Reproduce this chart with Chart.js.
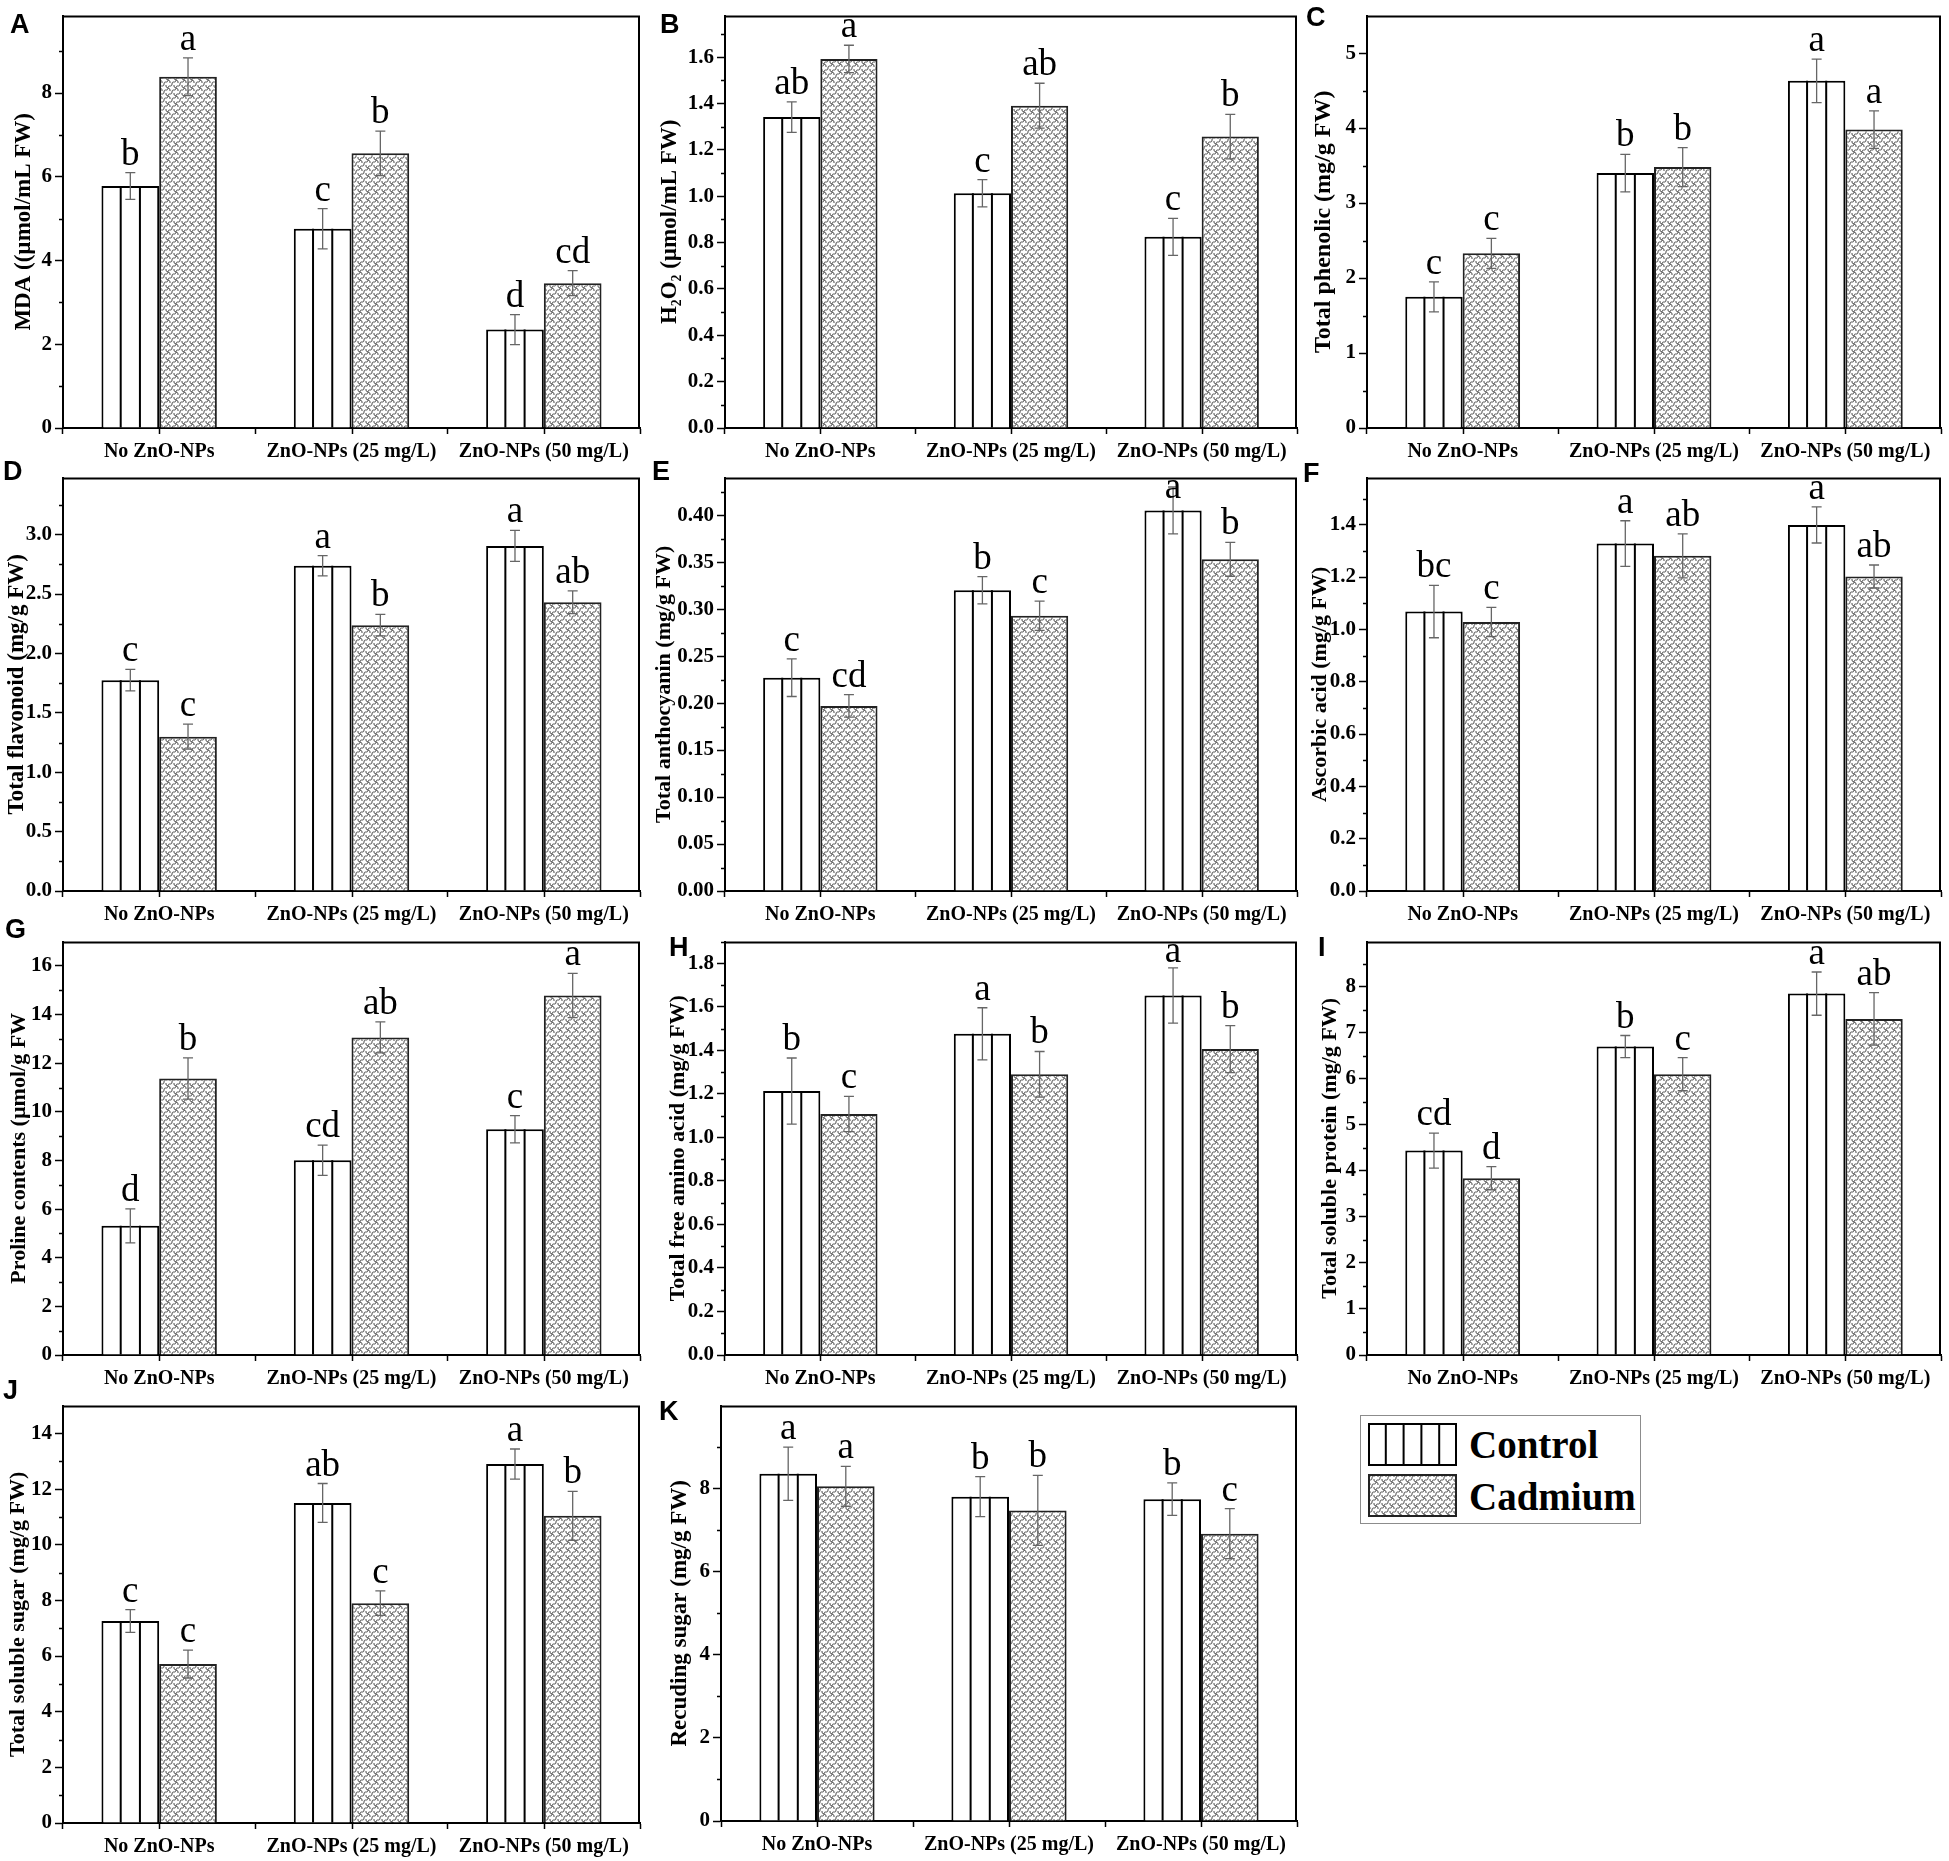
<!DOCTYPE html>
<html lang="en">
<head>
<meta charset="UTF-8">
<title>ZnO-NPs and cadmium – biochemical traits</title>
<script src="https://cdn.jsdelivr.net/npm/chart.js"></script>
<style>
  body { margin: 0; background: #fff; width: 1949px; height: 1861px; position: relative; overflow: hidden; }
  canvas.panel { position: absolute; }
  .tag { position: absolute; font: bold 27px "Liberation Sans", Arial, sans-serif; line-height: 1; color: #000; }
  #legend { position: absolute; left: 1360px; top: 1415px; width: 279px; height: 107px; border: 1px solid #8c8c8c; }
  #legend canvas { position: absolute; left: 7px; }
  #legend span { position: absolute; left: 108px; font: bold 39px "Liberation Serif", "Times New Roman", serif; line-height: 1; color: #000; }
</style>
</head>
<body>

<div id="legend">
  <canvas id="swControl" width="89" height="43" style="top:7px"></canvas>
  <span style="top:9px">Control</span>
  <canvas id="swCadmium" width="89" height="43" style="top:58px"></canvas>
  <span style="top:61px">Cadmium</span>
</div>

<script>
// ---- data ----
const categories = ['No ZnO-NPs', 'ZnO-NPs (25 mg/L)', 'ZnO-NPs (50 mg/L)'];
const seriesNames = ['Control', 'Cadmium'];
const panelIds = ['A', 'B', 'C', 'D', 'E', 'F', 'G', 'H', 'I', 'J', 'K'];
const yTitles = [
  'MDA ((µmol/mL FW)',
  'H₂O₂ (µmol/mL FW)',
  'Total phenolic (mg/g FW)',
  'Total flavonoid (mg/g FW)',
  'Total anthocyanin (mg/g FW)',
  'Ascorbic acid (mg/g FW)',
  'Proline contents (µmol/g FW',
  'Total free amino acid (mg/g FW)',
  'Total soluble protein (mg/g FW)',
  'Total soluble sugar (mg/g FW)',
  'Recuding sugar (mg/g FW)'
];
const yMax = [9.85, 1.78, 5.5, 3.48, 0.44, 1.58, 17, 1.9, 8.98, 15, 9.99];
const yStep = [2, 0.2, 1, 0.5, 0.05, 0.2, 2, 0.2, 1, 2, 2];
const yDecimals = [0, 1, 0, 1, 2, 1, 0, 1, 0, 0, 0];

const controlValues = [
  [5.78, 4.76, 2.35], [1.342, 1.013, 0.825], [1.75, 3.40, 4.63], [1.775, 2.738, 2.905],
  [0.227, 0.320, 0.405], [1.068, 1.328, 1.399], [5.31, 8.01, 9.28], [1.213, 1.476, 1.652],
  [4.44, 6.70, 7.85], [7.26, 11.5, 12.9], [8.35, 7.80, 7.74]
];
const controlErrors = [
  [0.32, 0.48, 0.36], [0.066, 0.059, 0.08], [0.2, 0.25, 0.29], [0.09, 0.085, 0.13],
  [0.02, 0.0145, 0.025], [0.1, 0.087, 0.069], [0.7, 0.62, 0.56], [0.152, 0.12, 0.127],
  [0.38, 0.24, 0.47], [0.41, 0.7, 0.54], [0.64, 0.48, 0.39]
];
const cadmiumValues = [
  [8.39, 6.56, 3.46], [1.593, 1.391, 1.258], [2.33, 3.48, 3.98], [1.299, 2.238, 2.431],
  [0.197, 0.293, 0.353], [1.028, 1.281, 1.202], [11.37, 13.06, 14.78], [1.108, 1.29, 1.406],
  [3.84, 6.10, 7.30], [5.71, 7.9, 11.04], [8.05, 7.47, 6.91]
];
const cadmiumErrors = [
  [0.45, 0.53, 0.3], [0.059, 0.097, 0.096], [0.2, 0.26, 0.25], [0.105, 0.09, 0.096],
  [0.012, 0.0155, 0.018], [0.056, 0.084, 0.044], [0.85, 0.64, 0.91], [0.081, 0.105, 0.108],
  [0.25, 0.36, 0.57], [0.5, 0.44, 0.88], [0.48, 0.84, 0.6]
];
const controlLetters = [
  ['b', 'c', 'd'], ['ab', 'c', 'c'], ['c', 'b', 'a'], ['c', 'a', 'a'], ['c', 'b', 'a'], ['bc', 'a', 'a'],
  ['d', 'cd', 'c'], ['b', 'a', 'a'], ['cd', 'b', 'a'], ['c', 'ab', 'a'], ['a', 'b', 'b']
];
const cadmiumLetters = [
  ['a', 'b', 'cd'], ['a', 'ab', 'b'], ['c', 'b', 'a'], ['c', 'b', 'ab'], ['cd', 'c', 'b'], ['c', 'ab', 'ab'],
  ['b', 'ab', 'a'], ['c', 'b', 'b'], ['d', 'c', 'ab'], ['c', 'c', 'b'], ['a', 'b', 'c']
];

// ---- page layout (pixels) ----
const cols = [
  { cl: 0, cr: 648, pl: 63, pr: 640 },
  { cl: 648, cr: 1302, pl: 725, pr: 1297 },
  { cl: 1302, cr: 1949, pl: 1367, pr: 1941 }
];
const rows = [
  { ct: 0, cb: 462, pt: 6, pb: 428 },
  { ct: 462, cb: 926, pt: 467, pb: 891 },
  { ct: 926, cb: 1390, pt: 930, pb: 1355 },
  { ct: 1390, cb: 1861, pt: 1400, pb: 1823 }
];
// tx/ts: y-title centre and size, lx/ly: panel tag
const panelLayout = [
  { c: 0, r: 0, tx: 24, ts: 23, lx: 10, ly: 11 },
  { c: 1, r: 0, tx: 670, ts: 23, lx: 660, ly: 11 },
  { c: 2, r: 0, tx: 1324, ts: 24, lx: 1306, ly: 4 },
  { c: 0, r: 1, tx: 17, ts: 23, lx: 3, ly: 458 },
  { c: 1, r: 1, tx: 664, ts: 22, lx: 652, ly: 458 },
  { c: 2, r: 1, tx: 1320, ts: 22, lx: 1303, ly: 460 },
  { c: 0, r: 2, tx: 19, ts: 22, lx: 5, ly: 916 },
  { c: 1, r: 2, tx: 678, ts: 22, lx: 669, ly: 934 },
  { c: 2, r: 2, tx: 1330, ts: 22, lx: 1318, ly: 934 },
  { c: 0, r: 3, tx: 18, ts: 22, lx: 3, ly: 1377 },
  { c: 1, r: 3, tx: 680, ts: 23, lx: 659, ly: 1398, pl: 721, pt: 1396, pb: 1821 }
];

Chart.defaults.font.family = '"Liberation Serif", "Times New Roman", serif';
Chart.defaults.color = '#000';

function cadmiumPattern() {
  const t = document.createElement('canvas');
  t.width = 8; t.height = 8;
  const g = t.getContext('2d');
  g.fillStyle = '#fff';
  g.fillRect(0, 0, 8, 8);
  g.strokeStyle = '#4a4a4a';
  g.lineWidth = 1;
  // wavy strokes running up-right
  g.beginPath();
  g.moveTo(0, 8);
  g.bezierCurveTo(0, 4, 4, 8, 4, 4);
  g.bezierCurveTo(4, 0, 8, 4, 8, 0);
  g.stroke();
  // short hooks linking neighbouring waves
  g.beginPath();
  g.moveTo(0, 0);
  g.quadraticCurveTo(3, 1, 2, 3);
  g.moveTo(8, 8);
  g.quadraticCurveTo(5, 7, 6, 5);
  g.stroke();
  return g.createPattern(t, 'repeat');
}

function stripes(ctx, left, top, width, bottom) {
  const n = Math.max(1, Math.round(width / 18.5));
  ctx.beginPath();
  for (let k = 1; k < n; k++) {
    const xx = left + k * width / n;
    ctx.moveTo(xx, top);
    ctx.lineTo(xx, bottom);
  }
  ctx.stroke();
}

const decor = {
  id: 'decor',
  afterDatasetsDraw(chart) {
    const { ctx, chartArea, scales } = chart;
    ctx.save();
    // vertical lines inside the control bars
    ctx.strokeStyle = '#000';
    ctx.lineWidth = 2;
    chart.getDatasetMeta(0).data.forEach(bar => {
      const p = bar.getProps(['x', 'y', 'base', 'width'], true);
      stripes(ctx, p.x - p.width / 2, p.y, p.width, p.base);
    });
    // error bars + significance letters
    chart.data.datasets.forEach((ds, di) => {
      chart.getDatasetMeta(di).data.forEach((bar, j) => {
        const p = bar.getProps(['x'], true);
        const v = ds.data[j], e = ds.errors[j];
        const yTop = scales.y.getPixelForValue(v + e);
        const yBot = scales.y.getPixelForValue(v - e);
        ctx.strokeStyle = '#666';
        ctx.lineWidth = 1.3;
        ctx.beginPath();
        ctx.moveTo(p.x, yTop); ctx.lineTo(p.x, yBot);
        ctx.moveTo(p.x - 5, yTop); ctx.lineTo(p.x + 5, yTop);
        ctx.moveTo(p.x - 5, yBot); ctx.lineTo(p.x + 5, yBot);
        ctx.stroke();

        ctx.font = '37px "Liberation Serif", "Times New Roman", serif';
        ctx.fillStyle = '#000';
        ctx.textAlign = 'center';
        ctx.textBaseline = 'alphabetic';
        const txt = ds.letters[j];
        const asc = ctx.measureText(txt).actualBoundingBoxAscent;
        let base = yTop - 8;
        if (base - asc < chartArea.top + 2) base = chartArea.top + 2 + asc;
        ctx.fillText(txt, p.x, base);
      });
    });
    ctx.restore();
  },
  afterDraw(chart) {
    const { ctx, chartArea, scales: { x, y } } = chart;
    ctx.save();
    ctx.strokeStyle = '#000';
    // top and right frame
    ctx.lineWidth = 2;
    ctx.beginPath();
    ctx.moveTo(chartArea.left, chartArea.top + 1);
    ctx.lineTo(chartArea.right - 1, chartArea.top + 1);
    ctx.lineTo(chartArea.right - 1, chartArea.bottom);
    ctx.stroke();
    // minor y ticks
    ctx.lineWidth = 1.5;
    const step = y.ticks[1].value - y.ticks[0].value;
    ctx.beginPath();
    for (let v = step / 2; v < y.max; v += step) {
      const py = Math.round(y.getPixelForValue(v)) + 0.5;
      ctx.moveTo(chartArea.left - 4, py);
      ctx.lineTo(chartArea.left, py);
    }
    // x ticks at category centres
    x.ticks.forEach((t, j) => {
      const px = Math.round(x.getPixelForTick(j)) + 0.5;
      ctx.moveTo(px, chartArea.bottom);
      ctx.lineTo(px, chartArea.bottom + 6);
    });
    ctx.stroke();
    ctx.restore();
  }
};

panelIds.forEach((id, i) => {
  const L = panelLayout[i];
  const col = cols[L.c], row = rows[L.r];
  const pl = L.pl ?? col.pl, pt = L.pt ?? row.pt, pb = L.pb ?? row.pb;

  const cv = document.createElement('canvas');
  cv.className = 'panel';
  cv.width = col.cr - col.cl;
  cv.height = row.cb - row.ct;
  cv.style.left = col.cl + 'px';
  cv.style.top = row.ct + 'px';
  document.body.appendChild(cv);

  const tag = document.createElement('div');
  tag.className = 'tag';
  tag.textContent = id;
  tag.style.left = L.lx + 'px';
  tag.style.top = L.ly + 'px';
  document.body.appendChild(tag);

  new Chart(cv.getContext('2d'), {
    type: 'bar',
    data: {
      labels: categories,
      datasets: [
        { label: seriesNames[0], data: controlValues[i], errors: controlErrors[i], letters: controlLetters[i],
          backgroundColor: '#fff', borderColor: '#000', borderWidth: 2 },
        { label: seriesNames[1], data: cadmiumValues[i], errors: cadmiumErrors[i], letters: cadmiumLetters[i],
          backgroundColor: cadmiumPattern(), borderColor: '#222', borderWidth: 2 }
      ]
    },
    options: {
      responsive: false,
      animation: false,
      devicePixelRatio: 1,
      layout: { padding: { left: 0, top: pt - row.ct, right: col.cr - col.pr, bottom: 0 } },
      datasets: { bar: { categoryPercentage: 0.6, barPercentage: 1 } },
      plugins: { legend: { display: false }, tooltip: { enabled: false } },
      scales: {
        x: {
          offset: true,
          grid: { display: true, drawOnChartArea: false, drawTicks: true, tickLength: 6, tickWidth: 1.5, tickColor: '#000' },
          border: { display: true, color: '#000', width: 2 },
          ticks: { autoSkip: false, maxRotation: 0, minRotation: 0, padding: 6, color: '#000', font: { size: 20, weight: 'bold' } },
          afterFit: s => { s.height = row.cb - pb; }
        },
        y: {
          min: 0,
          max: yMax[i],
          grid: { display: true, drawOnChartArea: false, drawTicks: true, tickLength: 8, tickWidth: 1.5, tickColor: '#000' },
          border: { display: true, color: '#000', width: 2 },
          ticks: {
            stepSize: yStep[i], includeBounds: false, padding: 3, color: '#000',
            font: { size: 21, weight: 'bold' },
            callback: v => Number(v).toFixed(yDecimals[i])
          },
          title: {
            display: true, text: yTitles[i], color: '#000',
            font: { size: L.ts, weight: 'bold', lineHeight: 1.2 },
            padding: { top: Math.max(0, L.tx - col.cl - 0.6 * L.ts), bottom: 0 }
          },
          afterFit: s => { s.width = pl - col.cl; }
        }
      }
    },
    plugins: [decor]
  });
});

// legend swatches
(function () {
  const a = document.getElementById('swControl').getContext('2d');
  a.fillStyle = '#fff'; a.fillRect(0, 0, 89, 43);
  a.strokeStyle = '#000'; a.lineWidth = 2;
  stripes(a, 0, 0, 89, 43);
  a.strokeRect(1, 1, 87, 41);
  const b = document.getElementById('swCadmium').getContext('2d');
  b.fillStyle = cadmiumPattern(); b.fillRect(0, 0, 89, 43);
  b.strokeStyle = '#222'; b.lineWidth = 2;
  b.strokeRect(1, 1, 87, 41);
})();
</script>
</body>
</html>
